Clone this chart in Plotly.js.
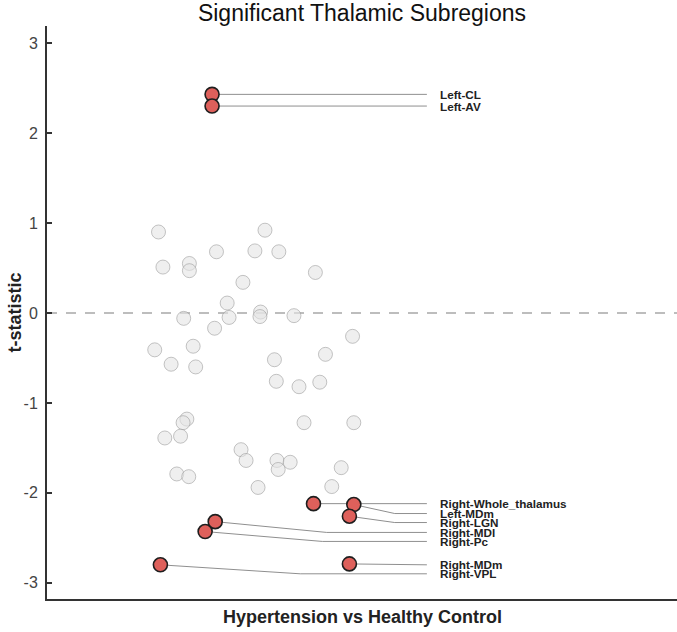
<!DOCTYPE html>
<html>
<head>
<meta charset="utf-8">
<script src="https://cdn.plot.ly/plotly-3.0.1.min.js"></script>
<style>html,body{margin:0;padding:0;background:#fff;}#chart{width:677px;height:632px;}</style>
</head>
<body>
<div id="chart"></div>
<script>
// Non-significant subregions: jitter position and t-statistic
const grayJitter = [0.177,0.346,0.269,0.330,0.368,0.184,0.226,0.226,0.426,0.311,0.286,0.217,0.339,0.338,0.289,0.392,0.266,0.485,0.171,0.232,0.197,0.236,0.361,0.442,0.364,0.400,0.433,0.222,0.216,0.408,0.487,0.187,0.212,0.308,0.316,0.365,0.367,0.386,0.467,0.206,0.225,0.335,0.452];
const grayT = [0.90,0.92,0.68,0.69,0.68,0.51,0.55,0.47,0.45,0.34,0.11,-0.06,0.01,-0.04,-0.05,-0.03,-0.17,-0.26,-0.41,-0.37,-0.57,-0.60,-0.52,-0.46,-0.76,-0.82,-0.77,-1.18,-1.22,-1.22,-1.22,-1.39,-1.37,-1.52,-1.64,-1.64,-1.74,-1.66,-1.72,-1.79,-1.82,-1.94,-1.93];

// Significant subregions
const sigLabels = ["Left-CL","Left-AV","Right-Whole_thalamus","Left-MDm","Right-LGN","Right-MDl","Right-Pc","Right-MDm","Right-VPL"];
const sigJitter = [0.262,0.262,0.423,0.487,0.480,0.267,0.251,0.480,0.180];
const sigT = [2.43,2.30,-2.12,-2.13,-2.26,-2.32,-2.43,-2.79,-2.80];

// Label placement (layout)
const labelT = [2.43,2.30,-2.12,-2.23,-2.33,-2.44,-2.54,-2.80,-2.90];
const bendJitter = [null,null,null,0.552,0.552,0.444,0.437,null,0.402];
const lineEnd = 0.603, labelX = 0.622;

const traces = [];
traces.push({
  type:'scatter', mode:'markers', x:grayJitter, y:grayT, hoverinfo:'skip',
  marker:{size:14, color:'rgba(228,228,228,0.6)', line:{color:'rgba(150,150,150,0.55)', width:1}},
  showlegend:false
});
sigLabels.forEach((lab,i)=>{
  const xs=[sigJitter[i]], ys=[sigT[i]];
  if(bendJitter[i]!==null){ xs.push(bendJitter[i]); ys.push(labelT[i]); }
  xs.push(lineEnd); ys.push(labelT[i]);
  traces.push({type:'scatter', mode:'lines', x:xs, y:ys, hoverinfo:'skip',
    line:{color:'#8f8f8f', width:1}, showlegend:false});
});
traces.push({
  type:'scatter', mode:'markers', x:sigJitter, y:sigT, hoverinfo:'skip',
  marker:{size:14, color:'#DE605B', line:{color:'#1e1e1e', width:1.6}},
  showlegend:false
});

const annotations = sigLabels.map((lab,i)=>({
  x:labelX, y:labelT[i], xref:'x', yref:'y', text:'<b>'+lab+'</b>', showarrow:false,
  xanchor:'left', yanchor:'middle', borderpad:0,
  font:{family:'Liberation Sans, Arial, sans-serif', size:11.7, color:'#222'}
}));
annotations.push({
  xref:'paper', yref:'paper', x:0.5, y:0, yshift:-18, showarrow:false,
  text:'<b>Hypertension vs Healthy Control</b>', xanchor:'center', yanchor:'middle',
  font:{family:'Liberation Sans, Arial, sans-serif', size:18, color:'#222'}
});
annotations.push({
  xref:'paper', yref:'paper', x:0, y:0.5, xshift:-33, showarrow:false, textangle:-90,
  text:'<b>t-statistic</b>', xanchor:'center', yanchor:'middle',
  font:{family:'Liberation Sans, Arial, sans-serif', size:18, color:'#222'}
});

const layout = {
  width:677, height:632,
  margin:{l:47, r:0, t:26, b:33, pad:0},
  paper_bgcolor:'#fff', plot_bgcolor:'#fff',
  font:{family:'Liberation Sans, Arial, sans-serif', color:'#333'},
  title:{text:'Significant Thalamic Subregions', x:0.5, xref:'paper', xanchor:'center',
    y:1-13/632, yref:'container', yanchor:'middle',
    font:{family:'Liberation Sans, Arial, sans-serif', size:23, color:'#111'}},
  xaxis:{range:[0,1], showgrid:false, zeroline:false, showline:true, linecolor:'#333', linewidth:2,
    showticklabels:false, ticks:'', fixedrange:true},
  yaxis:{range:[-3.18,3.19], showgrid:false, zeroline:false, showline:true, linecolor:'#333', linewidth:2,
    ticks:'inside', ticklen:5, tickwidth:1.5, tickcolor:'#333', tickvals:[-3,-2,-1,0,1,2,3],
    ticktext:['-3','-2','-1','0','1','2','3'], ticklabelstandoff:4,
    tickfont:{family:'Liberation Sans, Arial, sans-serif', size:16, color:'#444'}},
  shapes:[{type:'line', xref:'paper', yref:'y', x0:0, x1:1, y0:0, y1:0, layer:'below',
    line:{color:'#bdbdbd', width:2, dash:'10px,9px'}}],
  annotations:annotations,
  showlegend:false
};
Plotly.newPlot('chart', traces, layout, {staticPlot:true, displayModeBar:false});
</script>
</body>
</html>
